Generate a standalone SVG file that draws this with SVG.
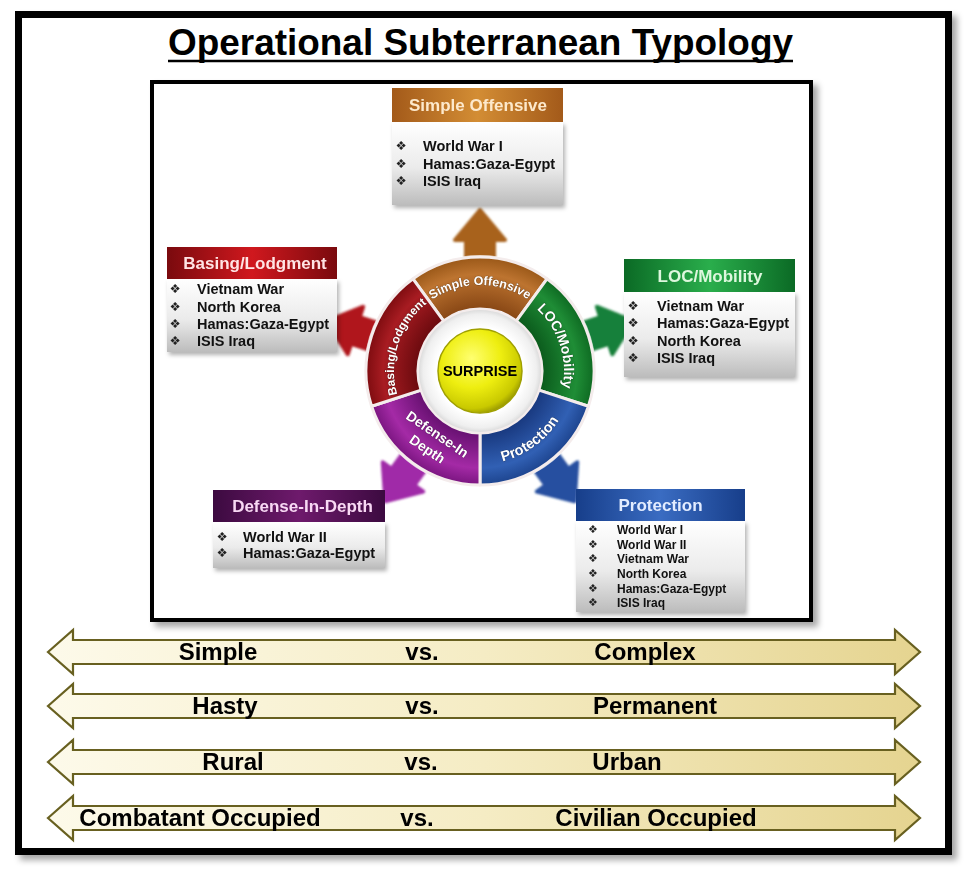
<svg xmlns="http://www.w3.org/2000/svg" xmlns:xlink="http://www.w3.org/1999/xlink" width="964" height="871" viewBox="0 0 964 871">
<style>
.title{font-family:"Liberation Sans",Arial,sans-serif;font-weight:bold;font-size:36px;fill:#000}
.hdr{font-family:"Liberation Sans",Arial,sans-serif;font-weight:bold;font-size:17px;text-anchor:middle}
.item{font-family:"Liberation Sans",Arial,sans-serif;font-weight:bold;font-size:14.5px;fill:#111}
.itemS{font-family:"Liberation Sans",Arial,sans-serif;font-weight:bold;font-size:12px;fill:#111}
.bul{font-family:"DejaVu Sans",sans-serif;font-size:12.5px;fill:#222;text-anchor:middle}
.seg{font-family:"Liberation Sans",Arial,sans-serif;font-weight:bold;font-size:13px;fill:#fff;stroke:rgba(0,0,0,0.35);stroke-width:0.8;paint-order:stroke}
.big{font-family:"Liberation Sans",Arial,sans-serif;font-weight:bold;font-size:24px;fill:#000;text-anchor:middle}
.barr{fill:url(#gBar);stroke:#686020;stroke-width:2.2;stroke-linejoin:miter}
.body{fill:url(#gBody);filter:url(#sh)}
</style>
<defs>
<filter id="sh" x="-10%" y="-10%" width="125%" height="130%"><feDropShadow dx="2" dy="3" stdDeviation="2" flood-color="#000" flood-opacity="0.3"/></filter>
<filter id="shF" x="-5%" y="-5%" width="112%" height="112%"><feDropShadow dx="5" dy="5" stdDeviation="3" flood-color="#000" flood-opacity="0.35"/></filter>
<filter id="soft" x="-20%" y="-20%" width="140%" height="140%"><feGaussianBlur stdDeviation="1"/></filter>
<linearGradient id="gBody" x1="0" y1="0" x2="0" y2="1"><stop offset="0" stop-color="#ffffff"/><stop offset="0.55" stop-color="#ebebeb"/><stop offset="1" stop-color="#bcbcbc"/></linearGradient>
<linearGradient id="gBar" x1="0" y1="0" x2="1" y2="0"><stop offset="0" stop-color="#fdfaea"/><stop offset="0.5" stop-color="#f5ecc4"/><stop offset="1" stop-color="#e5d490"/></linearGradient>
<linearGradient id="hO" x1="0" y1="0" x2="1" y2="0"><stop offset="0" stop-color="#a35a1a"/><stop offset="0.5" stop-color="#d38d34"/><stop offset="1" stop-color="#a35a1a"/></linearGradient>
<linearGradient id="hR" x1="0" y1="0" x2="1" y2="0"><stop offset="0" stop-color="#7a0a0e"/><stop offset="0.5" stop-color="#d0181e"/><stop offset="1" stop-color="#7a0a0e"/></linearGradient>
<linearGradient id="hG" x1="0" y1="0" x2="1" y2="0"><stop offset="0" stop-color="#0b6a25"/><stop offset="0.5" stop-color="#2aae4c"/><stop offset="1" stop-color="#0b6a25"/></linearGradient>
<linearGradient id="hP" x1="0" y1="0" x2="1" y2="0"><stop offset="0" stop-color="#3c0a40"/><stop offset="0.5" stop-color="#6e1a6c"/><stop offset="1" stop-color="#3c0a40"/></linearGradient>
<linearGradient id="hB" x1="0" y1="0" x2="1" y2="0"><stop offset="0" stop-color="#173e8a"/><stop offset="0.5" stop-color="#3a6cc2"/><stop offset="1" stop-color="#173e8a"/></linearGradient>
<radialGradient id="sO" cx="480" cy="371" r="114" gradientUnits="userSpaceOnUse"><stop offset="0.54" stop-color="#874614"/><stop offset="0.85" stop-color="#bd7430"/><stop offset="1" stop-color="#9a5818"/></radialGradient>
<radialGradient id="sG" cx="480" cy="371" r="114" gradientUnits="userSpaceOnUse"><stop offset="0.54" stop-color="#0b5a1c"/><stop offset="0.85" stop-color="#1f8d36"/><stop offset="1" stop-color="#0e6a22"/></radialGradient>
<radialGradient id="sB" cx="480" cy="371" r="114" gradientUnits="userSpaceOnUse"><stop offset="0.54" stop-color="#18387e"/><stop offset="0.85" stop-color="#3160b4"/><stop offset="1" stop-color="#1d448e"/></radialGradient>
<radialGradient id="sP" cx="480" cy="371" r="114" gradientUnits="userSpaceOnUse"><stop offset="0.54" stop-color="#661070"/><stop offset="0.85" stop-color="#a42aa6"/><stop offset="1" stop-color="#7a1580"/></radialGradient>
<radialGradient id="sR" cx="480" cy="371" r="114" gradientUnits="userSpaceOnUse"><stop offset="0.54" stop-color="#6a0a0e"/><stop offset="0.85" stop-color="#a81c22"/><stop offset="1" stop-color="#7e0c10"/></radialGradient>
<radialGradient id="gWhite" cx="480" cy="371" r="63" gradientUnits="userSpaceOnUse"><stop offset="0.7" stop-color="#ffffff"/><stop offset="0.9" stop-color="#efefef"/><stop offset="1" stop-color="#d4d4d4"/></radialGradient>
<radialGradient id="gYel" cx="0.4" cy="0.35" r="0.7"><stop offset="0" stop-color="#ffff70"/><stop offset="0.5" stop-color="#eeee10"/><stop offset="0.85" stop-color="#c9c900"/><stop offset="1" stop-color="#8c8c00"/></radialGradient>
<path id="arr" d="M466 278 L466 240 L455 240 L480 210 L505 240 L494 240 L494 278 Z"/>
<path id="arcA" d="M394 371 A86 86 0 0 1 566 371"/>
<path id="arcB" d="M396 371 A84 84 0 0 1 564 371"/>
<path id="arcBot" d="M387 371 A93 93 0 0 0 573 371"/>
</defs>

<rect width="964" height="871" fill="#ffffff"/>

<g id="frame">
<rect x="18.5" y="14.5" width="930" height="837" fill="#ffffff" stroke="#000" stroke-width="7" filter="url(#shF)"/>
<text class="title" x="480.5" y="55" text-anchor="middle" textLength="625" lengthAdjust="spacingAndGlyphs">Operational Subterranean Typology</text>
<line x1="168" y1="61" x2="793" y2="61" stroke="#000" stroke-width="2.5"/>
<rect x="152" y="82" width="659" height="538" fill="#ffffff" stroke="#000" stroke-width="4" filter="url(#shF)"/>
</g>

<g id="connectors" filter="url(#soft)">
<use xlink:href="#arr" fill="#a8621e" stroke="#a8621e" stroke-width="4" stroke-linejoin="round"/>
<use xlink:href="#arr" transform="rotate(72 480 371)" fill="#17803a" stroke="#17803a" stroke-width="4" stroke-linejoin="round"/>
<use xlink:href="#arr" transform="rotate(144 480 371)" fill="#2650a0" stroke="#2650a0" stroke-width="4" stroke-linejoin="round"/>
<use xlink:href="#arr" transform="rotate(216 480 371)" fill="#a02aa8" stroke="#a02aa8" stroke-width="4" stroke-linejoin="round"/>
<use xlink:href="#arr" transform="rotate(288 480 371)" fill="#b0181e" stroke="#b0181e" stroke-width="4" stroke-linejoin="round"/>
</g>

<g id="wheel">
<circle cx="480" cy="371" r="116" fill="#ffffff" opacity="0.6"/>
<g stroke="#f4ecec" stroke-width="3" stroke-linejoin="round">
<path id="segOffensive" d="M412.99 278.77 A114 114 0 0 1 547.01 278.77 L516.44 320.84 A62 62 0 0 0 443.56 320.84 Z" fill="url(#sO)"/>
<path id="segLOC" d="M547.01 278.77 A114 114 0 0 1 588.43 406.23 L538.97 390.16 A62 62 0 0 0 516.44 320.84 Z" fill="url(#sG)"/>
<path id="segProtection" d="M588.43 406.23 A114 114 0 0 1 480 485 L480 433 A62 62 0 0 0 538.97 390.16 Z" fill="url(#sB)"/>
<path id="segDefense" d="M480 485 A114 114 0 0 1 371.57 406.23 L421.03 390.16 A62 62 0 0 0 480 433 Z" fill="url(#sP)"/>
<path id="segBasing" d="M371.57 406.23 A114 114 0 0 1 412.99 278.77 L443.56 320.84 A62 62 0 0 0 421.03 390.16 Z" fill="url(#sR)"/>
</g>
<text class="seg"><textPath xlink:href="#arcA" startOffset="50%" text-anchor="middle" style="font-size:12.5px">Simple Offensive</textPath></text>
<text class="seg" transform="rotate(72 480 371)"><textPath xlink:href="#arcB" startOffset="50%" text-anchor="middle" style="font-size:14px">LOC/Mobility</textPath></text>
<text class="seg" transform="rotate(-72 480 371)"><textPath xlink:href="#arcA" startOffset="50%" text-anchor="middle" style="font-size:12px">Basing/Lodgment</textPath></text>
<text class="seg" transform="rotate(-36 480 371)"><textPath xlink:href="#arcBot" startOffset="50%" text-anchor="middle" style="font-size:14.5px">Protection</textPath></text>
<g transform="rotate(34 480 371)">
<text class="seg" x="480" y="452" text-anchor="middle" style="font-size:14px">Defense-In</text>
<text class="seg" x="480" y="470" text-anchor="middle" style="font-size:14px">Depth</text>
</g>
</g>

<g id="center">
<circle cx="480" cy="371" r="61" fill="url(#gWhite)"/>
<circle cx="480" cy="371" r="42" fill="url(#gYel)" stroke="#a0a000" stroke-width="1.5"/>
<text x="480" y="376" text-anchor="middle" font-family="Liberation Sans, Arial, sans-serif" font-weight="bold" font-size="14.5" fill="#000">SURPRISE</text>
</g>

<g id="boxOffensive">
<rect class="body" x="392" y="122" width="171" height="83"/>
<rect x="392" y="88" width="171" height="34" fill="url(#hO)"/>
<text class="hdr" x="478" y="111" fill="#fde9cc">Simple Offensive</text>
<text class="bul" x="401" y="150">❖</text><text class="item" x="423" y="151">World War I</text>
<text class="bul" x="401" y="168">❖</text><text class="item" x="423" y="169">Hamas:Gaza-Egypt</text>
<text class="bul" x="401" y="185">❖</text><text class="item" x="423" y="186">ISIS Iraq</text>
</g>

<g id="boxBasing">
<rect class="body" x="167" y="279" width="170" height="73"/>
<rect x="167" y="247" width="170" height="32" fill="url(#hR)"/>
<text class="hdr" x="255" y="269" fill="#ffe4e4">Basing/Lodgment</text>
<text class="bul" x="175" y="293">❖</text><text class="item" x="197" y="294">Vietnam War</text>
<text class="bul" x="175" y="311">❖</text><text class="item" x="197" y="312">North Korea</text>
<text class="bul" x="175" y="328">❖</text><text class="item" x="197" y="329">Hamas:Gaza-Egypt</text>
<text class="bul" x="175" y="345">❖</text><text class="item" x="197" y="346">ISIS Iraq</text>
</g>

<g id="boxLOC">
<rect class="body" x="624" y="292" width="171" height="85"/>
<rect x="624" y="259" width="171" height="33" fill="url(#hG)"/>
<text class="hdr" x="710" y="282" fill="#ddf7dd">LOC/Mobility</text>
<text class="bul" x="633" y="310">❖</text><text class="item" x="657" y="311">Vietnam War</text>
<text class="bul" x="633" y="327">❖</text><text class="item" x="657" y="328">Hamas:Gaza-Egypt</text>
<text class="bul" x="633" y="345">❖</text><text class="item" x="657" y="346">North Korea</text>
<text class="bul" x="633" y="362">❖</text><text class="item" x="657" y="363">ISIS Iraq</text>
</g>

<g id="boxDefense">
<rect class="body" x="213" y="522" width="172" height="46"/>
<rect x="213" y="490" width="172" height="32" fill="url(#hP)"/>
<text class="hdr" x="302.5" y="512" fill="#f8d8f4">Defense-In-Depth</text>
<text class="bul" x="222" y="541">❖</text><text class="item" x="243" y="542">World War II</text>
<text class="bul" x="222" y="557">❖</text><text class="item" x="243" y="558">Hamas:Gaza-Egypt</text>
</g>

<g id="boxProtection">
<rect class="body" x="576" y="521" width="169" height="91"/>
<rect x="576" y="489" width="169" height="32" fill="url(#hB)"/>
<text class="hdr" x="660.5" y="511" fill="#e2ecff">Protection</text>
<text class="bul" x="593" y="533" style="font-size:11px">❖</text><text class="itemS" x="617" y="534">World War I</text>
<text class="bul" x="593" y="548" style="font-size:11px">❖</text><text class="itemS" x="617" y="549">World War II</text>
<text class="bul" x="593" y="562" style="font-size:11px">❖</text><text class="itemS" x="617" y="563">Vietnam War</text>
<text class="bul" x="593" y="577" style="font-size:11px">❖</text><text class="itemS" x="617" y="578">North Korea</text>
<text class="bul" x="593" y="592" style="font-size:11px">❖</text><text class="itemS" x="617" y="593">Hamas:Gaza-Egypt</text>
<text class="bul" x="593" y="606" style="font-size:11px">❖</text><text class="itemS" x="617" y="607">ISIS Iraq</text>
</g>

<g id="scales">
<path class="barr" d="M48 652 L73 630 L73 640 L895 640 L895 630 L920 652 L895 674 L895 664 L73 664 L73 674 Z"/>
<path class="barr" d="M48 706 L73 684 L73 694 L895 694 L895 684 L920 706 L895 728 L895 718 L73 718 L73 728 Z"/>
<path class="barr" d="M48 762 L73 740 L73 750 L895 750 L895 740 L920 762 L895 784 L895 774 L73 774 L73 784 Z"/>
<path class="barr" d="M48 818 L73 796 L73 806 L895 806 L895 796 L920 818 L895 840 L895 830 L73 830 L73 840 Z"/>
<text class="big" x="218" y="660">Simple</text><text class="big" x="422" y="660">vs.</text><text class="big" x="645" y="660">Complex</text>
<text class="big" x="225" y="714">Hasty</text><text class="big" x="422" y="714">vs.</text><text class="big" x="655" y="714">Permanent</text>
<text class="big" x="233" y="770">Rural</text><text class="big" x="421" y="770">vs.</text><text class="big" x="627" y="770">Urban</text>
<text class="big" x="200" y="826">Combatant Occupied</text><text class="big" x="417" y="826">vs.</text><text class="big" x="656" y="826">Civilian Occupied</text>
</g>
</svg>
